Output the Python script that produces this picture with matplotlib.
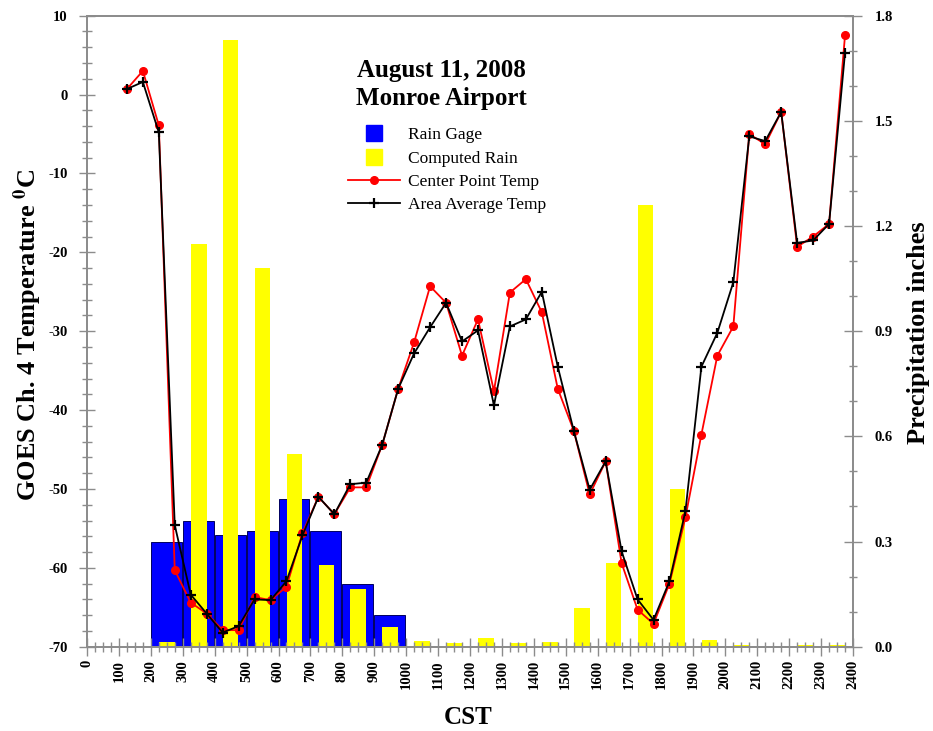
"""GOES Ch. 4 temperature vs. rain, Monroe Airport, August 11, 2008."""
import matplotlib
matplotlib.use("Agg")
import matplotlib.pyplot as plt
from matplotlib.lines import Line2D
from matplotlib.ticker import MultipleLocator

plt.rcParams["font.family"] = ["Liberation Serif", "DejaVu Serif"]
plt.rcParams["mathtext.fontset"] = "stix"
plt.rcParams["axes.unicode_minus"] = False

# time of each satellite scan (CST, hhmm-like decimal)
SCAN_TIMES = [125, 175, 225, 275, 325, 375, 425, 475, 525, 575, 625, 675,
              725, 775, 825, 875, 925, 975, 1025, 1075, 1125, 1175, 1225, 1275,
              1325, 1375, 1425, 1475, 1525, 1575, 1625, 1675, 1725, 1775, 1825, 1875,
              1925, 1975, 2025, 2075, 2125, 2175, 2225, 2275, 2325, 2375]
CENTER_TEMP = [0.7, 3.0, -3.9, -60.3, -64.4, -65.8, -67.9, -67.9, -63.7, -64.1, -62.4, -55.6,
               -51.0, -53.2, -49.8, -49.8, -44.4, -37.3, -31.4, -24.3, -26.4, -33.1, -28.5, -37.6,
               -25.1, -23.4, -27.6, -37.3, -42.6, -50.7, -46.5, -59.4, -65.3, -67.1, -62.0, -53.6,
               -43.1, -33.1, -29.4, -5.0, -6.3, -2.2, -19.3, -18.0, -16.4, 7.5]
AREA_TEMP = [0.7, 1.6, -4.8, -54.6, -63.4, -65.8, -68.2, -67.4, -64.0, -64.1, -61.7, -55.9,
             -51.0, -53.2, -49.4, -49.2, -44.4, -37.3, -32.8, -29.5, -26.4, -31.3, -29.9, -39.4,
             -29.4, -28.5, -25.0, -34.5, -42.6, -50.1, -46.5, -57.9, -64.0, -66.6, -61.7, -52.8,
             -34.5, -30.2, -23.8, -5.3, -5.9, -2.2, -18.8, -18.5, -16.4, 5.3]

# hourly rain gage totals (inches), hour start
GAGE_HOURS = [200, 300, 400, 500, 600, 700, 800, 900]
GAGE_RAIN = [0.30, 0.36, 0.32, 0.33, 0.42, 0.33, 0.18, 0.09]

# computed rain (inches), centred on the half hour
COMPUTED_TIMES = [250, 350, 450, 550, 650, 750, 850, 950, 1050, 1150, 1250,
                  1350, 1450, 1550, 1650, 1750, 1850, 1950, 2050, 2150, 2250, 2350]
COMPUTED_RAIN = [0.013, 1.15, 1.73, 1.08, 0.55, 0.233, 0.164, 0.055, 0.016, 0.011, 0.025,
                 0.011, 0.013, 0.111, 0.238, 1.26, 0.449, 0.018, 0.004, 0.0, 0.004, 0.004]

AXIS_GRAY = "#8c8c8c"

fig = plt.figure(figsize=(9.33, 7.31), dpi=100)
ax = fig.add_axes([87 / 933, 84.3 / 731, 766 / 933, 631 / 731])
ax2 = ax.twinx()

# rain bars on the precipitation axis
ax2.bar(GAGE_HOURS, GAGE_RAIN, width=97, align="edge", color="#0000ff",
        edgecolor="#000060", linewidth=0.7)
ax2.bar(COMPUTED_TIMES, COMPUTED_RAIN, width=49, color="#ffff00", linewidth=0)
ax2.set_ylim(0, 1.8)

# temperatures on top
ax.set_zorder(ax2.get_zorder() + 1)
ax.patch.set_visible(False)
ax.plot(SCAN_TIMES, CENTER_TEMP, color="red", lw=1.3, marker="o", ms=5.5)
ax.plot(SCAN_TIMES, AREA_TEMP, color="black", lw=1.3, marker="+", ms=7, mew=1.6)
ax.set_xlim(0, 2400)
ax.set_ylim(-70, 10)

ax.xaxis.set_major_locator(MultipleLocator(100))
ax.xaxis.set_minor_locator(MultipleLocator(25))
ax.yaxis.set_major_locator(MultipleLocator(10))
ax.yaxis.set_minor_locator(MultipleLocator(2))
ax2.yaxis.set_major_locator(MultipleLocator(0.3))
ax2.yaxis.set_minor_locator(MultipleLocator(0.1))
ax2.yaxis.set_major_formatter(plt.FuncFormatter(lambda v, _: f"{v:.1f}"))

for axis in (ax, ax2):
    for spine in axis.spines.values():
        spine.set_color(AXIS_GRAY)
        spine.set_linewidth(1.3)
ax.tick_params(axis="x", which="major", direction="inout", length=13.5, width=1,
               color=AXIS_GRAY, pad=3, labelsize=10.5, labelrotation=90)
ax.tick_params(axis="x", which="minor", direction="inout", length=7, width=1, color=AXIS_GRAY)
ax.tick_params(axis="y", which="major", direction="inout", length=11.5, width=1,
               color=AXIS_GRAY, pad=8, labelsize=10.5)
ax.tick_params(axis="y", which="minor", direction="inout", length=6.5, width=1, color=AXIS_GRAY)
ax2.tick_params(axis="y", which="major", direction="inout", length=13, width=1,
                color=AXIS_GRAY, pad=9, labelsize=10.5)
ax2.tick_params(axis="y", which="minor", direction="inout", length=6, width=1, color=AXIS_GRAY)
for label in ax.get_xticklabels() + ax.get_yticklabels() + ax2.get_yticklabels():
    label.set_fontweight("bold")

fig.text(28 / 933, 1 - 335 / 731, r"GOES Ch. 4 Temperature $^{\mathbf{0}}$C", rotation=90,
         ha="center", va="center", fontsize=19, fontweight="bold")
fig.text(918 / 933, 1 - 333 / 731, "Precipitation inches", rotation=90,
         ha="center", va="center", fontsize=19, fontweight="bold")
fig.text(468 / 933, 1 - 718 / 731, "CST", ha="center", va="center", fontsize=18, fontweight="bold")
fig.text(441 / 933, 1 - 71 / 731, "August 11, 2008", ha="center", va="center",
         fontsize=18, fontweight="bold")
fig.text(441 / 933, 1 - 99 / 731, "Monroe Airport", ha="center", va="center",
         fontsize=18, fontweight="bold")

handles = [
    Line2D([], [], ls="none", marker="s", ms=11, color="#0000ff"),
    Line2D([], [], ls="none", marker="s", ms=11, color="#ffff00"),
    Line2D([], [], color="red", lw=1.3, marker="o", ms=5.5),
    Line2D([], [], color="black", lw=1.3, marker="+", ms=7, mew=1.6),
]
labels = ["Rain Gage", "Computed Rain", "Center Point Temp", "Area Average Temp"]
fig.legend(handles, labels, loc="upper left", bbox_to_anchor=(348 / 933, 1 - 127 / 731),
           frameon=False, fontsize=12.5, handlelength=3, handletextpad=0.45,
           labelspacing=0.42, borderpad=0, borderaxespad=0, numpoints=1)

fig.savefig("out.png", dpi=100)
